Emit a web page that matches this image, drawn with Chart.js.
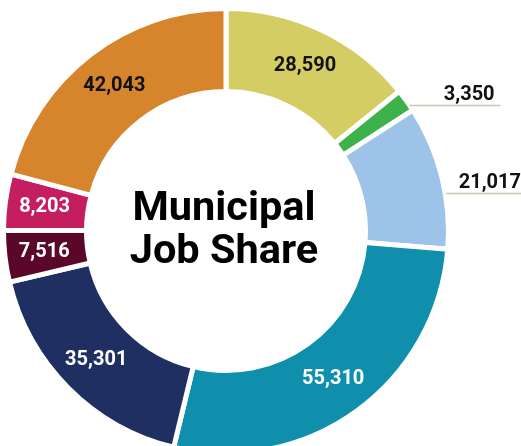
<!DOCTYPE html>
<html>
<head>
<meta charset="utf-8">
<script src="https://cdn.jsdelivr.net/npm/chart.js@4.4.1/dist/chart.umd.min.js"></script>
<style>
  html, body { margin: 0; padding: 0; background: #fff; overflow: hidden; }
  #wrap { width: 521px; height: 480px; }
</style>
</head>
<body>
<div id="wrap"><canvas id="jobChart" width="521" height="480"></canvas></div>
<script>
// Data
const categories = ["Segment A", "Segment B", "Segment C", "Segment D", "Segment E", "Segment F", "Segment G", "Segment H"];
const jobs = [28590, 3350, 21017, 55310, 35301, 7516, 8203, 42043];
const sliceColors = ["#d4cd63", "#3db24a", "#9dc4e8", "#0f8fab", "#1f2f62", "#5b0729", "#c41d60", "#d7852c"];
const labelColors = ["#111", "#111", "#111", "#fff", "#fff", "#fff", "#fff", "#111"];
const labelOutside = [false, true, true, false, false, false, false, false];
const centerTitle = ["Municipal", "Job Share"];

// Labels drawn on the slices, plus leader lines for the outside ones
const sliceLabels = {
  id: "sliceLabels",
  afterDatasetsDraw(chart) {
    const ctx = chart.ctx;
    const arcs = chart.getDatasetMeta(0).data;
    ctx.save();
    ctx.font = "bold 20px Roboto";
    arcs.forEach((arc, i) => {
      const p = arc.getProps(["x", "y", "startAngle", "endAngle", "innerRadius", "outerRadius"], true);
      const text = jobs[i].toLocaleString("en-US");
      ctx.fillStyle = labelColors[i];
      if (!labelOutside[i]) {
        const mid = (p.startAngle + p.endAngle) / 2;
        const r = (p.innerRadius + p.outerRadius) / 2 + 2;
        ctx.textAlign = "center";
        ctx.textBaseline = "middle";
        ctx.fillText(text, p.x + r * Math.cos(mid), p.y + r * Math.sin(mid));
      } else {
        const a = p.startAngle + (p.endAngle - p.startAngle) * 0.6;
        const edge = p.outerRadius - 2.5;
        const x0 = p.x + edge * Math.cos(a) + 4;
        const y0 = Math.round(p.y + edge * Math.sin(a)) + 1.5;
        const x1 = Math.min(x0 + 91, chart.width + 6);
        ctx.strokeStyle = "#cbc3b2";
        ctx.lineWidth = 1.5;
        ctx.beginPath();
        ctx.moveTo(x0, y0);
        ctx.lineTo(x1, y0);
        ctx.stroke();
        ctx.textAlign = "right";
        ctx.textBaseline = "alphabetic";
        ctx.fillText(text, x1 - 6, y0 - 6);
      }
    });
    // center title
    const cx = arcs[0].x, cy = arcs[0].y;
    ctx.fillStyle = "#000";
    ctx.font = "bold 41.5px Roboto";
    ctx.textAlign = "center";
    ctx.textBaseline = "alphabetic";
    ctx.fillText(centerTitle[0], cx - 2, cy - 11);
    ctx.fillText(centerTitle[1], cx - 2, cy + 32);
    ctx.restore();
  }
};

const ctx = document.getElementById("jobChart").getContext("2d");
const jobChart = new Chart(ctx, {
  type: "doughnut",
  data: {
    labels: categories,
    datasets: [{
      data: jobs,
      backgroundColor: sliceColors,
      borderColor: "#fff",
      borderWidth: 5,
      hoverOffset: 0
    }]
  },
  options: {
    responsive: false,
    animation: false,
    radius: 222.5,
    cutout: "62.7%",
    layout: { padding: { left: 0, right: 69, top: 0, bottom: 18 } },
    plugins: {
      legend: { display: false },
      tooltip: { enabled: false }
    }
  },
  plugins: [sliceLabels]
});
</script>
</body>
</html>
